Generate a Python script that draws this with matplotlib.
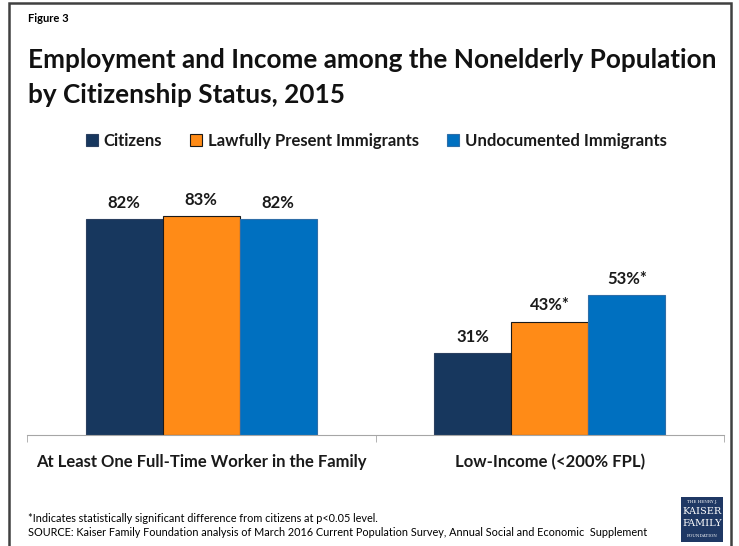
import matplotlib.pyplot as plt
from matplotlib.patches import Rectangle

# --- Datos ---
categorias = ['At Least One Full-Time Worker in the Family', 'Low-Income (<200% FPL)']
series = ['Citizens', 'Lawfully Present Immigrants', 'Undocumented Immigrants']
ciudadanos = [82, 31]
legales = [83, 43]
indocumentados = [82, 53]
etiquetas = [['82%', '31%'], ['83%', '43%*'], ['82%', '53%*']]

colores = ['#17375E', '#FF8B17', '#0070C0']
bordes = ['#2B4060', '#1A1A1A', '#2F6EA8']

plt.rcParams['font.family'] = ['Lato', 'DejaVu Sans']

fig = plt.figure(figsize=(7.39, 5.46), dpi=100)
ax = fig.add_axes([27 / 739, 111 / 546, 697 / 739, 275 / 546])

ancho = 0.221
valores = [ciudadanos, legales, indocumentados]
for i, (vals, nombre) in enumerate(zip(valores, series)):
    xs = [g + (i - 1) * ancho for g in range(len(categorias))]
    barras = ax.bar(xs, vals, width=ancho, color=colores[i], edgecolor=bordes[i],
                    linewidth=0.8, label=nombre)
    for b, txt in zip(barras, etiquetas[i]):
        ax.text(b.get_x() + b.get_width() / 2, b.get_height() + 3.2, txt,
                ha='center', va='bottom', fontsize=12, fontweight='bold', color='#1A1A1A')

ax.set_xlim(-0.5, 1.5)
ax.set_ylim(0, 104.4)
ax.set_yticks([])
for lado in ['left', 'right', 'top']:
    ax.spines[lado].set_visible(False)
ax.spines['bottom'].set_color('#A6A6A6')
ax.set_xticks([-0.5, 0.5, 1.5], minor=True)
ax.tick_params(axis='x', which='minor', length=5, color='#A6A6A6')
ax.set_xticks(range(len(categorias)))
ax.set_xticklabels(categorias, fontsize=12, fontweight='bold', color='#1A1A1A')
ax.tick_params(axis='x', which='major', length=0, pad=14)

leg = fig.legend(*ax.get_legend_handles_labels(), loc='center left',
                 bbox_to_anchor=(86 / 739, 1 - 141 / 546),
                 ncol=3, frameon=False, fontsize=12, handlelength=0.7, handleheight=0.7,
                 handletextpad=0.35, columnspacing=1.7, borderaxespad=0, borderpad=0)
for t in leg.get_texts():
    t.set_fontweight('bold')
    t.set_color('#1A1A1A')

# --- Textos ---
fig.text(28 / 739, 1 - 19 / 546, 'Figure 3', fontsize=8, fontweight='bold', va='center')
fig.text(28 / 739, 1 - 60 / 546, 'Employment and Income among the Nonelderly Population',
         fontsize=18.85, fontweight='bold', va='center', color='#111111')
fig.text(28 / 739, 1 - 95 / 546, 'by Citizenship Status, 2015',
         fontsize=18.85, fontweight='bold', va='center', color='#111111')
fig.text(28 / 739, 1 - 519 / 546, '*Indicates statistically significant difference from citizens at p<0.05 level.',
         fontsize=7.8, va='center')
fig.text(28 / 739, 1 - 533 / 546,
         'SOURCE: Kaiser Family Foundation analysis of March 2016 Current Population Survey, Annual Social and Economic  Supplement',
         fontsize=7.8, va='center')

# --- Marco y logo ---
fig.patches.append(Rectangle((9 / 739, -0.02), 722 / 739, 1.0 - 3 / 546 + 0.02, transform=fig.transFigure,
                             fill=False, edgecolor='#404040', linewidth=1.8))
fig.patches.append(Rectangle((681 / 739, 1 - 542 / 546), 42 / 739, 45 / 546, transform=fig.transFigure,
                             facecolor='#1F3864', edgecolor='none'))
lx = 702 / 739
fig.text(lx, 1 - 502 / 546, 'THE HENRY J.', fontsize=3, color='white', ha='center', va='center', family='DejaVu Serif')
fig.text(lx, 1 - 512 / 546, 'KAISER', fontsize=7, color='white', ha='center', va='center', family='DejaVu Serif')
fig.text(lx, 1 - 524 / 546, 'FAMILY', fontsize=7, color='white', ha='center', va='center', family='DejaVu Serif')
fig.text(lx, 1 - 536 / 546, 'FOUNDATION', fontsize=3, color='white', ha='center', va='center', family='DejaVu Serif')

fig.savefig('out.png', dpi=100)
